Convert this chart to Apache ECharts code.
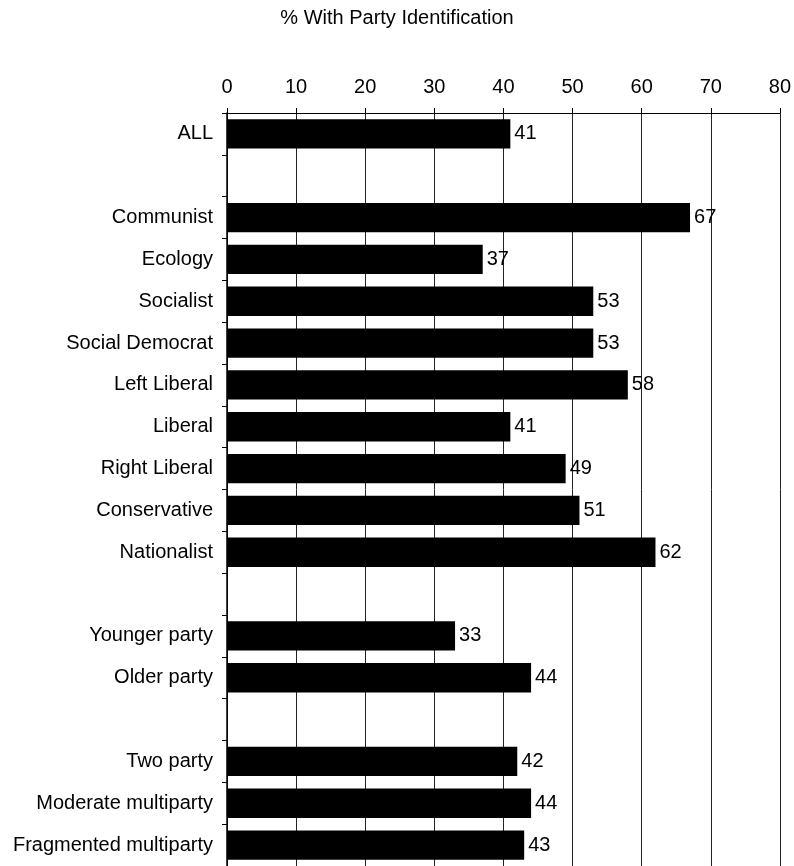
<!DOCTYPE html>
<html>
<head>
<meta charset="utf-8">
<script src="https://cdn.jsdelivr.net/npm/echarts@6/dist/echarts.min.js"></script>
<style>html,body{margin:0;padding:0;background:#fff;}#chart{width:794px;height:866px;}</style>
</head>
<body>
<div id="chart"></div>
<script>
const categories = ['ALL', ' ', 'Communist', 'Ecology', 'Socialist', 'Social Democrat', 'Left Liberal', 'Liberal', 'Right Liberal', 'Conservative', 'Nationalist', '  ', 'Younger party', 'Older party', '   ', 'Two party', 'Moderate multiparty', 'Fragmented multiparty'];
const values = [41, null, 67, 37, 53, 53, 58, 41, 49, 51, 62, null, 33, 44, null, 42, 44, 43];
const xTicks = [0, 10, 20, 30, 40, 50, 60, 70, 80];
const titleText = '% With Party Identification';

const FONT = '"Liberation Sans", Arial, Helvetica, sans-serif';
const chart = echarts.init(document.getElementById('chart'), null, {renderer: 'canvas'});
chart.setOption({
  animation: false,
  backgroundColor: '#fff',
  title: {
    text: titleText,
    left: 'center',
    top: 3,
    textStyle: {fontFamily: FONT, fontSize: 20, fontWeight: 'normal', color: '#000'}
  },
  grid: {left: 227, right: 11, top: 113, height: 756, containLabel: false},
  xAxis: {
    type: 'value',
    position: 'top',
    min: xTicks[0],
    max: xTicks[xTicks.length - 1],
    interval: 10,
    axisLine: {show: true, lineStyle: {color: '#000', width: 1}},
    axisTick: {show: true, length: 5, lineStyle: {color: '#000'}},
    axisLabel: {fontFamily: FONT, fontSize: 20, color: '#000', margin: 16},
    splitLine: {show: true, lineStyle: {color: '#222', width: 1}}
  },
  yAxis: {
    type: 'category',
    inverse: true,
    data: categories,
    axisLine: {show: true, lineStyle: {color: '#000', width: 1.5}},
    axisTick: {show: true, length: 5, lineStyle: {color: '#000'}},
    axisLabel: {fontFamily: FONT, fontSize: 20, color: '#000', margin: 14},
    splitLine: {show: false}
  },
  series: [{
    type: 'bar',
    data: values,
    barCategoryGap: '30%',
    itemStyle: {color: '#000'},
    z: 1,
    label: {
      show: true,
      position: 'right',
      distance: 4,
      fontFamily: FONT,
      fontSize: 20,
      color: '#000'
    }
  }]
});
</script>
</body>
</html>
